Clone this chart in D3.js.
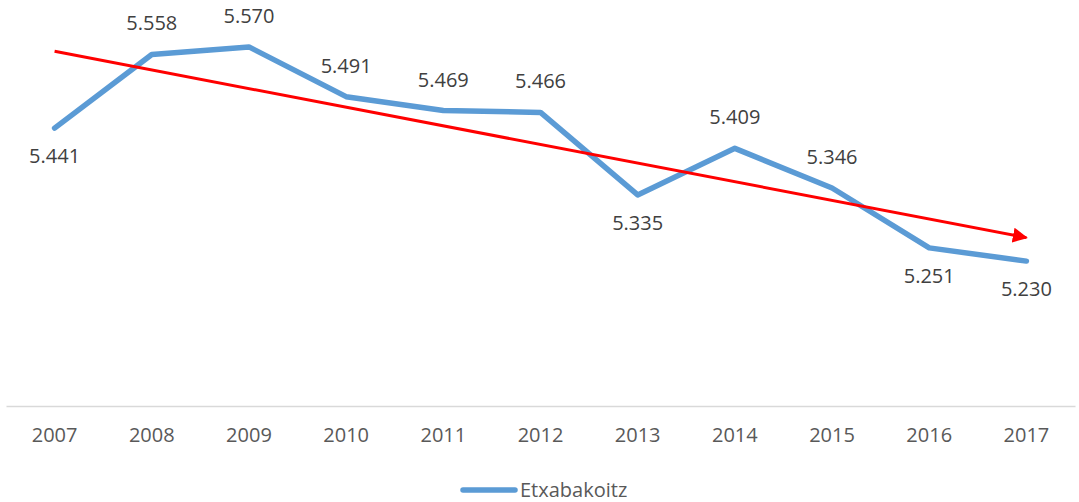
<!DOCTYPE html>
<html>
<head>
<meta charset="utf-8">
<script src="https://cdn.jsdelivr.net/npm/d3@7"></script>
<style>
  body { margin: 0; background: #fff; }
  text { font-family: "Open Sans", sans-serif; }
</style>
</head>
<body>
<div id="chart"></div>
<script>
// Data
const years = ['2007', '2008', '2009', '2010', '2011', '2012', '2013', '2014', '2015', '2016', '2017']
const values = [5.441, 5.558, 5.570, 5.491, 5.469, 5.466, 5.335, 5.409, 5.346, 5.251, 5.230]
const labelSide = ['below', 'above', 'above', 'above', 'above', 'above', 'below', 'above', 'above', 'below', 'below']
const seriesName = 'Etxabakoitz'

const width = 1079
const height = 502
const plot = { left: 6, right: 1075, top: 28, bottom: 406 }

const svg = d3.select('#chart')
  .append('svg')
  .attr('width', width)
  .attr('height', height)

const x = d3.scaleBand()
  .domain(years)
  .range([plot.left, plot.right])

const y = d3.scaleLinear()
  .domain([5.0, 5.6])
  .range([plot.bottom, plot.top])

const cx = d => x(d) + x.bandwidth() / 2

// X axis
const xAxis = svg.append('g')
  .attr('transform', `translate(0, ${plot.bottom})`)
  .call(d3.axisBottom(x).tickSize(0).tickPadding(22))
xAxis.select('.domain').attr('stroke', '#d9d9d9').attr('stroke-width', 1.5)
xAxis.selectAll('text')
  .attr('font-family', '"Open Sans", sans-serif')
  .attr('font-size', 20)
  .attr('fill', '#595959')

// Trendline (least squares over the data)
const idx = values.map((v, i) => i)
const mx = d3.mean(idx)
const my = d3.mean(values)
const slope = d3.sum(idx, i => (i - mx) * (values[i] - my)) / d3.sum(idx, i => (i - mx) ** 2)
const trend = i => my + slope * (i - mx)

svg.append('defs').append('marker')
  .attr('id', 'arrow')
  .attr('viewBox', '0 0 10 10')
  .attr('refX', 9)
  .attr('refY', 5)
  .attr('markerWidth', 5)
  .attr('markerHeight', 5)
  .attr('markerUnits', 'strokeWidth')
  .attr('orient', 'auto')
  .append('path')
  .attr('d', 'M0,0 L10,5 L0,10 Z')
  .attr('fill', '#ff0000')

// Series line
const line = d3.line()
  .x((d, i) => cx(years[i]))
  .y(d => y(d))

svg.append('path')
  .datum(values)
  .attr('d', line)
  .attr('fill', 'none')
  .attr('stroke', '#5b9bd5')
  .attr('stroke-width', 5.5)
  .attr('stroke-linejoin', 'round')
  .attr('stroke-linecap', 'round')

svg.append('line')
  .attr('x1', cx(years[0]))
  .attr('y1', y(trend(0)))
  .attr('x2', cx(years[years.length - 1]))
  .attr('y2', y(trend(years.length - 1)))
  .attr('stroke', '#ff0000')
  .attr('stroke-width', 3)
  .attr('marker-end', 'url(#arrow)')

// Data labels
svg.append('g')
  .selectAll('text')
  .data(values)
  .enter().append('text')
  .attr('x', (d, i) => cx(years[i]))
  .attr('y', (d, i) => y(d) + (labelSide[i] === 'above' ? -24 : 35))
  .attr('text-anchor', 'middle')
  .attr('font-size', 20)
  .attr('fill', '#404040')
  .text(d => d3.format('.3f')(d))

// Legend
const legend = svg.append('g')
  .attr('transform', 'translate(463, 490)')
legend.append('line')
  .attr('x1', 0).attr('x2', 52)
  .attr('stroke', '#5b9bd5')
  .attr('stroke-width', 5.5)
  .attr('stroke-linecap', 'round')
legend.append('text')
  .attr('x', 57)
  .attr('y', 7)
  .attr('font-size', 20)
  .attr('fill', '#595959')
  .text(seriesName)
</script>
</body>
</html>
